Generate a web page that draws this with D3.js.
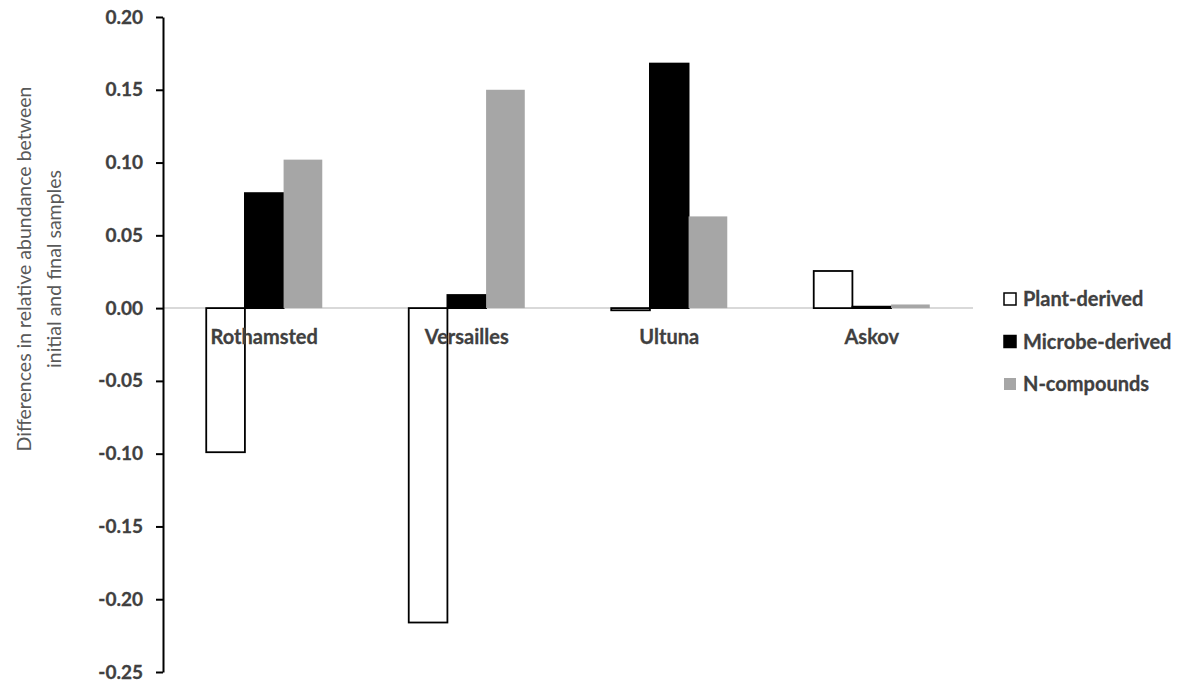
<!DOCTYPE html>
<html>
<head>
<meta charset="utf-8">
<script src="https://cdn.jsdelivr.net/npm/d3@7/dist/d3.min.js"></script>
<style>
  html, body { margin: 0; padding: 0; background: #fff; }
  svg { display: block; }
</style>
</head>
<body>
<svg id="chart" width="1183" height="684"></svg>
<script>
const categories = ["Rothamsted", "Versailles", "Ultuna", "Askov"];
const seriesNames = ["Plant-derived", "Microbe-derived", "N-compounds"];
const plantDerived = [-0.099, -0.216, -0.0015, 0.0255];
const microbeDerived = [0.079, 0.009, 0.168, 0.001];
const nCompounds = [0.102, 0.150, 0.063, 0.0025];
const yTicks = [0.20, 0.15, 0.10, 0.05, 0.00, -0.05, -0.10, -0.15, -0.20, -0.25];
const yTitle = ["Differences in relative abundance between", "initial and final samples"];

(function () {
const seriesValues = [plantDerived, microbeDerived, nCompounds];
const fills = ["#ffffff", "#000000", "#a6a6a6"];
const strokes = ["#000000", "#000000", "none"];

const svg = d3.select("#chart");
const mLeft = 163, mRight = 973, mTop = 17, mBottom = 672;

const y = d3.scaleLinear().domain([-0.25, 0.20]).range([mBottom, mTop]);
const x0 = d3.scaleBand().domain(categories).range([mLeft, mRight]).paddingInner(0.427).paddingOuter(0.2135);
const x1 = d3.scaleBand().domain(seriesNames).range([0, x0.bandwidth()]);

const labelFont = "Lato, 'DejaVu Sans', sans-serif";
const textColor = "#404040";

// zero line
svg.append("line")
  .attr("x1", mLeft).attr("x2", mRight)
  .attr("y1", y(0)).attr("y2", y(0))
  .attr("stroke", "#d9d9d9").attr("stroke-width", 2);

// bars
const groups = svg.append("g").selectAll("g")
  .data(categories).join("g")
  .attr("transform", d => `translate(${x0(d)},0)`);

groups.selectAll("rect")
  .data((d, i) => seriesNames.map((s, j) => ({ s, j, v: seriesValues[j][i] })))
  .join("rect")
  .attr("x", d => x1(d.s))
  .attr("width", x1.bandwidth())
  .attr("y", d => y(Math.max(0, d.v)))
  .attr("height", d => Math.abs(y(d.v) - y(0)))
  .attr("fill", d => fills[d.j])
  .attr("stroke", d => strokes[d.j])
  .attr("stroke-width", 1.8);

// y axis
const yAxis = d3.axisLeft(y).tickValues(yTicks).tickSize(7).tickSizeOuter(0)
  .tickFormat(d => d3.format(".2f")(d).replace("\u2212", "-"));
const ga = svg.append("g").attr("transform", `translate(${mLeft},0)`).call(yAxis);
ga.select(".domain").attr("stroke", "#000").attr("stroke-width", 2);
ga.selectAll(".tick line").attr("stroke", "#000").attr("stroke-width", 2);
ga.selectAll(".tick text")
  .attr("x", -20)
  .attr("fill", textColor)
  .attr("stroke", textColor)
  .attr("stroke-width", 0.3)
  .style("font-family", labelFont)
  .style("font-weight", "bold")
  .style("font-size", "19px");

// category labels
svg.append("g").selectAll("text")
  .data(categories).join("text")
  .attr("x", d => x0(d) + x0.bandwidth() / 2)
  .attr("y", 344)
  .attr("text-anchor", "middle")
  .attr("fill", textColor)
  .attr("stroke", textColor)
  .attr("stroke-width", 0.3)
  .style("font-family", labelFont)
  .style("font-weight", "bold")
  .style("font-size", "20px")
  .text(d => d);

// y title
const tg = svg.append("text")
  .attr("transform", `translate(0,269) rotate(-90)`)
  .attr("text-anchor", "middle")
  .attr("fill", "#595959")
  .style("font-family", "Lato, 'Open Sans', sans-serif")
  .style("font-size", "19.5px");
tg.selectAll("tspan").data(yTitle).join("tspan")
  .attr("x", 0)
  .attr("y", (d, i) => 31 + i * 30)
  .text(d => d);

// legend
const lg = svg.append("g").selectAll("g")
  .data(seriesNames).join("g")
  .attr("transform", (d, i) => `translate(1004,${293 + i * 42.5})`);
lg.append("rect")
  .attr("width", 12).attr("height", 12)
  .attr("fill", (d, i) => fills[i])
  .attr("stroke", (d, i) => strokes[i])
  .attr("stroke-width", 1.5);
lg.append("text")
  .attr("x", 19).attr("y", 13)
  .attr("fill", textColor)
  .attr("stroke", textColor)
  .attr("stroke-width", 0.3)
  .style("font-family", labelFont)
  .style("font-weight", "bold")
  .style("font-size", "20px")
  .text(d => d);
})();
</script>
</body>
</html>
